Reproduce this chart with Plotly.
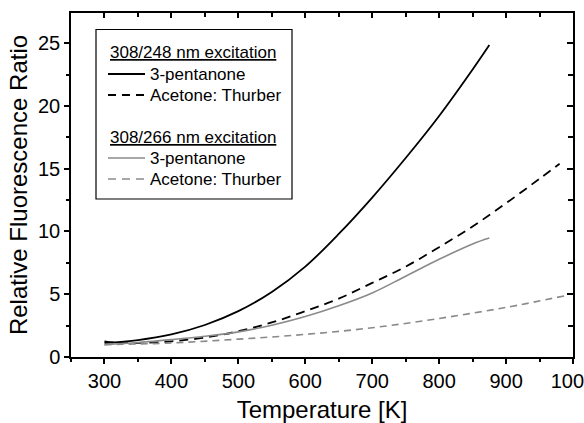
import plotly.graph_objects as go

# ---------------- data ----------------
T_pent248 = [300, 350, 400, 450, 500, 550, 600, 650, 700, 750, 800, 850, 875]
R_pent248 = [1.12, 1.35, 1.8, 2.55, 3.65, 5.18, 7.2, 9.8, 12.7, 15.85, 19.2, 22.9, 24.85]

T_ace248 = [300, 320, 350, 400, 450, 500, 550, 600, 650, 700, 750, 800, 850, 900, 950, 980]
R_ace248 = [1.25, 1.13, 1.12, 1.25, 1.55, 2.05, 2.75, 3.65, 4.65, 5.9, 7.2, 8.75, 10.4, 12.25, 14.2, 15.4]

T_pent266 = [300, 350, 400, 450, 500, 550, 600, 650, 700, 750, 800, 850, 875]
R_pent266 = [0.98, 1.15, 1.38, 1.65, 2.0, 2.53, 3.22, 4.08, 5.1, 6.43, 7.78, 9.0, 9.47]

T_ace266 = [300, 400, 500, 600, 700, 800, 900, 990]
R_ace266 = [0.98, 1.12, 1.42, 1.8, 2.33, 3.07, 3.95, 4.9]

x_ticks = [300, 400, 500, 600, 700, 800, 900, 1000]
y_ticks = [0, 5, 10, 15, 20, 25]

group_titles = ["308/248 nm excitation", "308/266 nm excitation"]
series_names = ["3-pentanone", "Acetone: Thurber"]

BLACK = "black"
GRAY = "#8a8a8a"
FONT = "Liberation Sans, Arial, sans-serif"

W, H = 584, 423
ML, MR, MT, MB = 71, 11, 13, 66
PW, PH = W - ML - MR, H - MT - MB


def px(x):
    return (x - ML) / PW


def py(y):
    return (H - MB - y) / PH


styles = [
    (T_pent248, R_pent248, BLACK, "solid", 1.8),
    (T_ace248, R_ace248, BLACK, "9px,6px", 1.8),
    (T_pent266, R_pent266, GRAY, "solid", 1.6),
    (T_ace266, R_ace266, GRAY, "7px,5px", 1.6),
]

fig = go.Figure()
for i, (t, r, c, d, w) in enumerate(styles):
    fig.add_trace(go.Scatter(
        x=t, y=r, mode="lines", name=f"{group_titles[i // 2]} {series_names[i % 2]}",
        line=dict(color=c, dash=d, width=w, shape="spline", smoothing=1.0),
        showlegend=False, hoverinfo="skip"))

# empty trace to activate the mirrored (top/right) axes
fig.add_trace(go.Scatter(x=[], y=[], xaxis="x2", yaxis="y2", showlegend=False,
                         hoverinfo="skip"))

xr = [250, 1000]
yr = [0, 27.4]

fig.update_layout(
    width=W, height=H,
    margin=dict(l=ML, r=MR, t=MT, b=MB, autoexpand=False),
    plot_bgcolor="white", paper_bgcolor="white",
    font=dict(family=FONT, size=20, color="black"),
    showlegend=False,
    xaxis=dict(range=xr, tickvals=x_ticks, ticks="outside", ticklen=5, tickwidth=1.5,
               tickcolor="black", showline=True, linecolor="black", linewidth=1.5,
               mirror=True, showgrid=False, zeroline=False, ticklabeloverflow="allow",
               automargin=False,
               minor=dict(dtick=50, tick0=0, ticks="outside", ticklen=3, tickwidth=1.5,
                          tickcolor="black", showgrid=False),
               title=dict(text="Temperature [K]", standoff=20)),
    yaxis=dict(range=yr, tickvals=y_ticks, ticks="outside", ticklen=5, tickwidth=1.5,
               tickcolor="black", showline=True, linecolor="black", linewidth=1.5,
               mirror=True, showgrid=False, zeroline=False, automargin=False,
               minor=dict(dtick=2.5, tick0=0, ticks="outside", ticklen=3, tickwidth=1.5,
                          tickcolor="black", showgrid=False),
               title=dict(text="Relative Fluorescence Ratio", standoff=4)),
    xaxis2=dict(range=xr, overlaying="x", side="top", tickvals=x_ticks, ticks="inside",
                ticklen=5, tickwidth=1.5, tickcolor="black", showticklabels=False,
                showgrid=False, zeroline=False, showline=False, automargin=False,
                minor=dict(dtick=50, tick0=0, ticks="inside", ticklen=4, tickwidth=1.5,
                           tickcolor="black", showgrid=False)),
    yaxis2=dict(range=yr, overlaying="y", side="right", tickvals=y_ticks, ticks="inside",
                ticklen=6, tickwidth=1.5, tickcolor="black", showticklabels=False,
                showgrid=False, zeroline=False, showline=False, automargin=False,
                minor=dict(dtick=2.5, tick0=0, ticks="inside", ticklen=5, tickwidth=1.5,
                           tickcolor="black", showgrid=False)),
)

# ---------------- hand-made legend ----------------
shapes = [dict(type="rect", xref="paper", yref="paper",
               x0=px(96), x1=px(292), y0=py(199), y1=py(29.5),
               line=dict(color="black", width=1.2), fillcolor="white", layer="above")]
annotations = []
header_rows = [53, 137]
item_rows = [[74, 95], [158, 179]]
for g in range(2):
    annotations.append(dict(xref="paper", yref="paper", x=px(108), y=py(header_rows[g]),
                            xanchor="left", yanchor="middle", showarrow=False,
                            text=f"<u>{group_titles[g]}</u>",
                            font=dict(size=17, family=FONT, color="black")))
    for k in range(2):
        _, _, c, d, w = styles[2 * g + k]
        yy = item_rows[g][k]
        shapes.append(dict(type="line", xref="paper", yref="paper",
                           x0=px(108), x1=px(145), y0=py(yy), y1=py(yy),
                           line=dict(color=c, width=w, dash=("8px,6px" if d != "solid" else "solid")),
                           layer="above"))
        annotations.append(dict(xref="paper", yref="paper", x=px(148), y=py(yy),
                                xanchor="left", yanchor="middle", showarrow=False,
                                text=series_names[k],
                                font=dict(size=17, family=FONT, color="black")))

fig.update_layout(shapes=shapes, annotations=annotations)

fig.write_html("out.html")
